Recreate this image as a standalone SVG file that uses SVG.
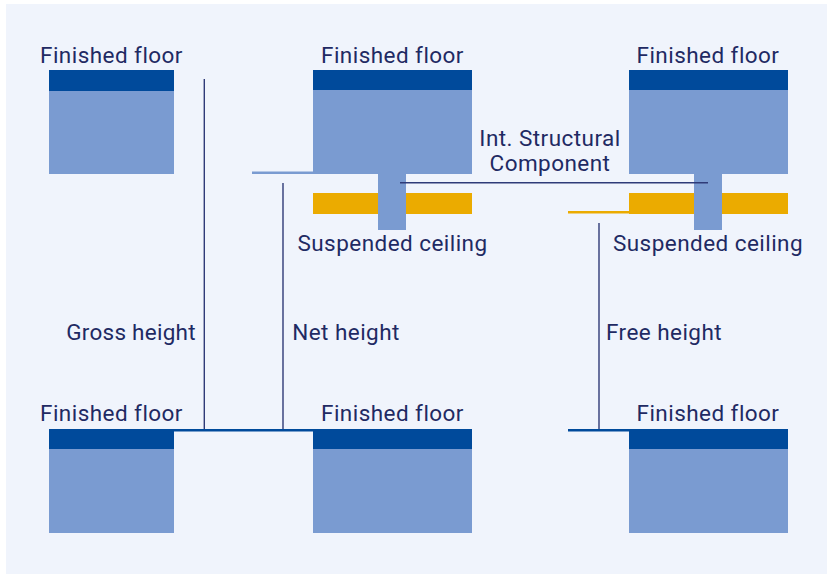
<svg xmlns="http://www.w3.org/2000/svg" width="827" height="574" viewBox="0 0 827 574">
<style>
.t{font-family:Roboto,Inter,"Liberation Sans",sans-serif;font-size:22.5px;letter-spacing:.45px;fill:#1f2a63;text-anchor:middle}
.top{fill:#004a9b}.body{fill:#7a9bd1}.ceil{fill:#ebab00}
.l{stroke:#2f3b78;stroke-width:1.400;fill:none}
</style>
<rect x="0" y="0" width="827" height="574" fill="#ffffff"/>
<rect x="6" y="4" width="821" height="570" fill="#f0f4fc"/>
<g id="floor-top-left"><rect class="top" x="49" y="70" width="125" height="21"/><rect class="body" x="49" y="91" width="125" height="83"/><text class="t" x="111.500" y="62.600">Finished floor</text></g>
<g id="floor-top-mid"><rect class="ceil" x="313" y="193" width="159" height="21"/><rect class="top" x="313" y="70" width="159" height="20"/><rect class="body" x="313" y="90" width="159" height="84"/><rect class="body" x="378" y="174" width="28" height="56"/><text class="t" x="392.500" y="62.600">Finished floor</text><text class="t" x="392.500" y="251">Suspended ceiling</text></g>
<g id="floor-top-right"><rect class="ceil" x="629" y="193" width="159" height="21"/><rect class="top" x="629" y="70" width="159" height="20"/><rect class="body" x="629" y="90" width="159" height="84"/><rect class="body" x="694" y="174" width="28" height="56"/><text class="t" x="708" y="62.600">Finished floor</text><text class="t" x="708" y="251">Suspended ceiling</text></g>
<g id="floor-bottom-left"><rect class="top" x="49" y="429" width="125" height="20"/><rect class="body" x="49" y="449" width="125" height="84"/><text class="t" x="111.500" y="420.600">Finished floor</text></g>
<g id="floor-bottom-mid"><rect class="top" x="313" y="429" width="159" height="20"/><rect class="body" x="313" y="449" width="159" height="84"/><text class="t" x="392.500" y="420.600">Finished floor</text></g>
<g id="floor-bottom-right"><rect class="top" x="629" y="429" width="159" height="20"/><rect class="body" x="629" y="449" width="159" height="84"/><text class="t" x="708" y="420.600">Finished floor</text></g>
<g id="connectors">
<path class="l" d="M204.300 79V430M283 183V430M599 223V430M400 182.800H708"/>
<path d="M174 430.300H313M568 430.300H629" stroke="#004a9b" stroke-width="2.500" fill="none"/>
<path d="M252 172.800H313" stroke="#7a9bd1" stroke-width="2.500" fill="none"/>
<path d="M568 212.300H629" stroke="#ebab00" stroke-width="2.500" fill="none"/>
</g>
<g id="labels">
<text class="t" x="550" y="146">Int. Structural</text><text class="t" x="550" y="171">Component</text>
<text class="t" x="131" y="339.600" style="letter-spacing:.25px">Gross height</text><text class="t" x="346" y="339.600">Net height</text><text class="t" x="664" y="339.600">Free height</text>
</g>
</svg>
